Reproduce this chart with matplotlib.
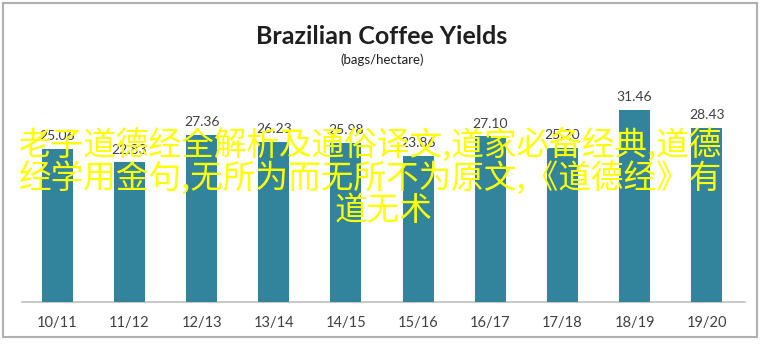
import matplotlib
matplotlib.use("Agg")
import matplotlib.pyplot as plt
import numpy as np

# data
seasons = ['10/11', '11/12', '12/13', '13/14', '14/15',
           '15/16', '16/17', '17/18', '18/19', '19/20']
yields = [25.06, 22.83, 27.36, 26.23, 25.98, 23.86, 27.10, 25.20, 31.46, 28.43]

overlay_lines = [
    '老子道德经全解析及通俗译文,道家必备经典,道德',
    '经学用金句,无所为而无所不为原文,《道德经》有',
    '道无术',
]

BAR = '#31849B'
TEXT = '#404040'

W, H = 764, 345
fig = plt.figure(figsize=(W / 100, H / 100), dpi=100, facecolor='white')

# outer chart border
border = plt.Rectangle((3 / W, 8 / H), 754 / W, 334 / H, transform=fig.transFigure,
                       fill=False, edgecolor='#B0B0B0', linewidth=1.5)
fig.add_artist(border)

ax = fig.add_axes([22 / W, 43 / H, 723 / W, 214 / H])
x = np.arange(len(seasons))
ax.bar(x, yields, width=0.43, color=BAR, zorder=3)
for xi, v in zip(x, yields):
    ax.text(xi, v + 1.1, f'{v:.2f}', ha='center', va='bottom',
            fontsize=10, color=TEXT, family='Lato')

ax.set_xlim(-0.49, 9.53)
ax.set_ylim(0, 35)
ax.set_xticks(x)
ax.set_xticklabels(seasons, fontsize=10.5, color=TEXT, family='Lato')
ax.tick_params(axis='x', length=0, pad=10)
ax.set_yticks([])
for s in ['top', 'left', 'right']:
    ax.spines[s].set_visible(False)
ax.spines['bottom'].set_color('#BFBFBF')
ax.spines['bottom'].set_linewidth(1.2)

fig.text(0.5, 1 - 37 / H, 'Brazilian Coffee Yields', ha='center', va='center',
         fontsize=18, fontweight='bold', color='#1F1F1F', family='Lato')
fig.text(0.5, 1 - 60 / H, '(bags/hectare)', ha='center', va='center',
         fontsize=9.5, color='#1F1F1F', family='Lato')

# yellow overlay text
line_y = [145, 178, 211]
line_x = [371, 371, 384]
for t, yy, xx in zip(overlay_lines, line_y, line_x):
    fig.text(xx / W, 1 - yy / H, t, ha='center', va='center', fontsize=23.5,
             color='#FFFF00', family=['Noto Sans CJK SC', 'DejaVu Sans'], zorder=10)

plt.savefig('out.png', dpi=100, facecolor='white')
